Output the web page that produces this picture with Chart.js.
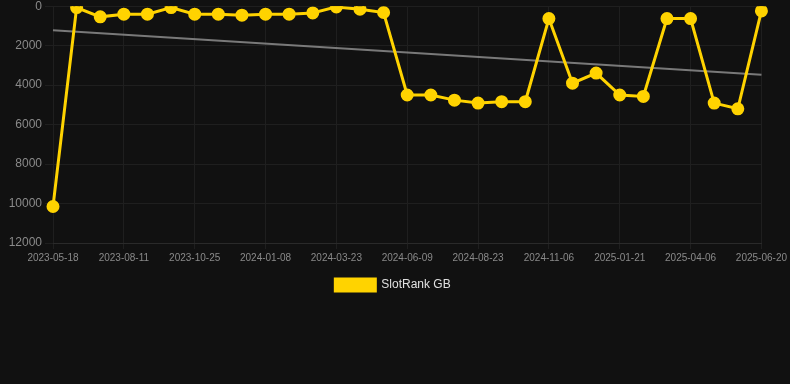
<!DOCTYPE html>
<html>
<head>
<meta charset="utf-8">
<script src="https://cdn.jsdelivr.net/npm/chart.js@4"></script>
<style>
  html, body { margin: 0; padding: 0; background: #111111; overflow: hidden; }
  #wrap { width: 790px; height: 305px; position: relative; margin-top: -4px; }
</style>
</head>
<body>
<div id="wrap"><canvas id="chart"></canvas></div>
<script>
const dates = [
  "2023-05-18", "2023-06-15", "2023-07-14", "2023-08-11", "2023-09-05", "2023-09-30",
  "2023-10-25", "2023-11-19", "2023-12-14", "2024-01-08", "2024-02-02", "2024-02-27",
  "2024-03-23", "2024-04-17", "2024-05-14", "2024-06-09", "2024-07-04", "2024-07-29",
  "2024-08-23", "2024-09-17", "2024-10-12", "2024-11-06", "2024-12-01", "2024-12-27",
  "2025-01-21", "2025-02-15", "2025-03-12", "2025-04-06", "2025-05-01", "2025-05-26",
  "2025-06-20"
];

const rankGB = [
  10150, 70, 540, 405, 405, 70, 405, 405, 455, 405, 405, 340, 35, 150, 320,
  4500, 4500, 4760, 4910, 4840, 4840, 625, 3900, 3390, 4500, 4570, 625, 625,
  4910, 5200, 240
];

// trend line: only the two end points, joined straight across
const trend = [1215].concat(new Array(29).fill(null), [3477]);

const yTicks = [0, 2000, 4000, 6000, 8000, 10000, 12000];

const gridColor = "#1f1f1f";

new Chart(document.getElementById("chart"), {
  type: "line",
  data: {
    labels: dates,
    datasets: [
      {
        label: "SlotRank GB",
        data: rankGB,
        borderColor: "#FFD300",
        backgroundColor: "#FFD300",
        borderWidth: 3,
        pointRadius: 5,
        pointHoverRadius: 5,
        tension: 0,
      },
      {
        label: "trend",
        data: trend,
        borderColor: "rgba(140,140,140,0.85)",
        borderWidth: 2,
        pointRadius: 0,
        spanGaps: true,
      },
    ],
  },
  options: {
    responsive: true,
    maintainAspectRatio: false,
    animation: false,
    layout: { padding: { top: 0, right: 4, left: 0, bottom: 0 } },
    scales: {
      x: {
        offset: false,
        grid: {
          color: (ctx) => (ctx.index % 3 === 0 ? gridColor : "rgba(0,0,0,0)"),
          tickLength: 6,
        },
        border: { color: "#2a2a2a" },
        ticks: {
          color: "#8a8a8a",
          font: { family: "Arial, Liberation Sans", size: 10 },
          maxRotation: 0,
          autoSkip: false,
          callback: function (val, i) {
            return i % 3 === 0 ? dates[i] : "";
          },
        },
      },
      y: {
        reverse: true,
        min: 0,
        max: 12000,
        afterBuildTicks: (axis) => {
          axis.ticks = yTicks.map((v) => ({ value: v }));
        },
        afterFit: (axis) => {
          axis.width = 53;
        },
        grid: { color: gridColor },
        border: { display: false },
        ticks: {
          color: "#8a8a8a",
          font: { family: "Arial, Liberation Sans", size: 12 },
          callback: (v) => String(v),
        },
      },
    },
    plugins: {
      legend: {
        labels: {
          color: "#e0e0e0",
          font: { family: "Arial, Liberation Sans", size: 12 },
          boxWidth: 40,
          boxHeight: 12,
          padding: 12,
          filter: (item) => item.text !== "trend",
        },
        position: "bottom",
      },
      tooltip: { enabled: false },
    },
  },
});
</script>
</body>
</html>
